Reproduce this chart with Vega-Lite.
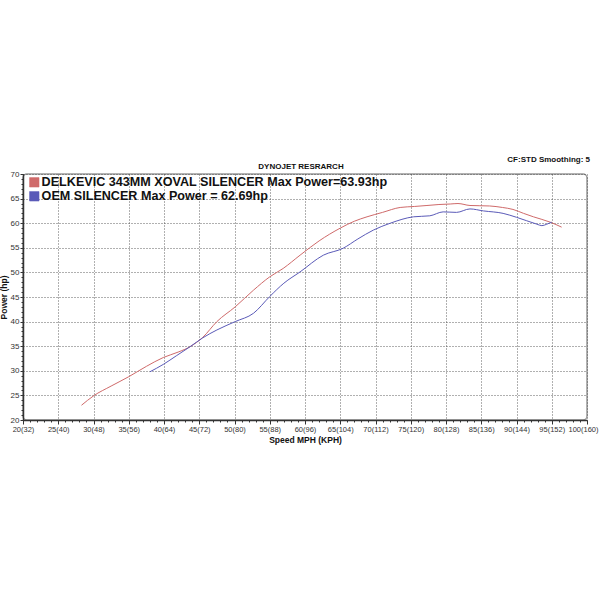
{
  "$schema": "https://vega.github.io/schema/vega-lite/v6.json",
  "autosize": "none",
  "width": 564,
  "height": 246,
  "padding": {"left": 23, "top": 174, "right": 13, "bottom": 180},
  "background": "white",
  "config": {
    "font": "Liberation Sans",
    "view": {"stroke": "#999", "strokeWidth": 1.5, "cornerRadius": 4}
  },
  "title": {"text": "DYNOJET RESRARCH", "fontSize": 8, "fontWeight": "bold", "color": "#111", "offset": -15, "anchor": "middle", "dx": -4},
  "datasets": {
    "runs": [
      {"series": "DELKEVIC 343MM XOVAL SILENCER Max Power=63.93hp", "mph": 28.3, "hp": 23.0},
      {"series": "DELKEVIC 343MM XOVAL SILENCER Max Power=63.93hp", "mph": 30.0, "hp": 24.9},
      {"series": "DELKEVIC 343MM XOVAL SILENCER Max Power=63.93hp", "mph": 32.5, "hp": 26.9},
      {"series": "DELKEVIC 343MM XOVAL SILENCER Max Power=63.93hp", "mph": 35.0, "hp": 28.8},
      {"series": "DELKEVIC 343MM XOVAL SILENCER Max Power=63.93hp", "mph": 37.5, "hp": 30.9},
      {"series": "DELKEVIC 343MM XOVAL SILENCER Max Power=63.93hp", "mph": 39.9, "hp": 32.7},
      {"series": "DELKEVIC 343MM XOVAL SILENCER Max Power=63.93hp", "mph": 42.0, "hp": 33.8},
      {"series": "DELKEVIC 343MM XOVAL SILENCER Max Power=63.93hp", "mph": 43.7, "hp": 34.9},
      {"series": "DELKEVIC 343MM XOVAL SILENCER Max Power=63.93hp", "mph": 45.5, "hp": 36.8},
      {"series": "DELKEVIC 343MM XOVAL SILENCER Max Power=63.93hp", "mph": 47.5, "hp": 40.0},
      {"series": "DELKEVIC 343MM XOVAL SILENCER Max Power=63.93hp", "mph": 50.1, "hp": 43.0},
      {"series": "DELKEVIC 343MM XOVAL SILENCER Max Power=63.93hp", "mph": 52.7, "hp": 46.4},
      {"series": "DELKEVIC 343MM XOVAL SILENCER Max Power=63.93hp", "mph": 55.0, "hp": 49.1},
      {"series": "DELKEVIC 343MM XOVAL SILENCER Max Power=63.93hp", "mph": 56.9, "hp": 50.8},
      {"series": "DELKEVIC 343MM XOVAL SILENCER Max Power=63.93hp", "mph": 59.3, "hp": 53.5},
      {"series": "DELKEVIC 343MM XOVAL SILENCER Max Power=63.93hp", "mph": 62.0, "hp": 56.4},
      {"series": "DELKEVIC 343MM XOVAL SILENCER Max Power=63.93hp", "mph": 65.0, "hp": 59.0},
      {"series": "DELKEVIC 343MM XOVAL SILENCER Max Power=63.93hp", "mph": 67.0, "hp": 60.4},
      {"series": "DELKEVIC 343MM XOVAL SILENCER Max Power=63.93hp", "mph": 68.8, "hp": 61.3},
      {"series": "DELKEVIC 343MM XOVAL SILENCER Max Power=63.93hp", "mph": 71.0, "hp": 62.2},
      {"series": "DELKEVIC 343MM XOVAL SILENCER Max Power=63.93hp", "mph": 73.5, "hp": 63.2},
      {"series": "DELKEVIC 343MM XOVAL SILENCER Max Power=63.93hp", "mph": 75.5, "hp": 63.4},
      {"series": "DELKEVIC 343MM XOVAL SILENCER Max Power=63.93hp", "mph": 77.3, "hp": 63.6},
      {"series": "DELKEVIC 343MM XOVAL SILENCER Max Power=63.93hp", "mph": 79.0, "hp": 63.8},
      {"series": "DELKEVIC 343MM XOVAL SILENCER Max Power=63.93hp", "mph": 80.6, "hp": 63.9},
      {"series": "DELKEVIC 343MM XOVAL SILENCER Max Power=63.93hp", "mph": 81.7, "hp": 64.0},
      {"series": "DELKEVIC 343MM XOVAL SILENCER Max Power=63.93hp", "mph": 83.4, "hp": 63.6},
      {"series": "DELKEVIC 343MM XOVAL SILENCER Max Power=63.93hp", "mph": 86.2, "hp": 63.5},
      {"series": "DELKEVIC 343MM XOVAL SILENCER Max Power=63.93hp", "mph": 88.0, "hp": 63.2},
      {"series": "DELKEVIC 343MM XOVAL SILENCER Max Power=63.93hp", "mph": 89.5, "hp": 62.8},
      {"series": "DELKEVIC 343MM XOVAL SILENCER Max Power=63.93hp", "mph": 91.0, "hp": 62.0},
      {"series": "DELKEVIC 343MM XOVAL SILENCER Max Power=63.93hp", "mph": 92.4, "hp": 61.3},
      {"series": "DELKEVIC 343MM XOVAL SILENCER Max Power=63.93hp", "mph": 94.8, "hp": 60.2},
      {"series": "DELKEVIC 343MM XOVAL SILENCER Max Power=63.93hp", "mph": 96.4, "hp": 59.2},
      {"series": "OEM SILENCER Max Power = 62.69hp", "mph": 38.0, "hp": 29.8},
      {"series": "OEM SILENCER Max Power = 62.69hp", "mph": 39.9, "hp": 31.3},
      {"series": "OEM SILENCER Max Power = 62.69hp", "mph": 41.8, "hp": 33.1},
      {"series": "OEM SILENCER Max Power = 62.69hp", "mph": 43.7, "hp": 34.9},
      {"series": "OEM SILENCER Max Power = 62.69hp", "mph": 45.5, "hp": 36.7},
      {"series": "OEM SILENCER Max Power = 62.69hp", "mph": 47.5, "hp": 38.3},
      {"series": "OEM SILENCER Max Power = 62.69hp", "mph": 50.1, "hp": 40.0},
      {"series": "OEM SILENCER Max Power = 62.69hp", "mph": 52.7, "hp": 41.7},
      {"series": "OEM SILENCER Max Power = 62.69hp", "mph": 55.0, "hp": 45.1},
      {"series": "OEM SILENCER Max Power = 62.69hp", "mph": 57.0, "hp": 47.8},
      {"series": "OEM SILENCER Max Power = 62.69hp", "mph": 59.3, "hp": 50.1},
      {"series": "OEM SILENCER Max Power = 62.69hp", "mph": 62.6, "hp": 53.5},
      {"series": "OEM SILENCER Max Power = 62.69hp", "mph": 65.4, "hp": 54.9},
      {"series": "OEM SILENCER Max Power = 62.69hp", "mph": 67.5, "hp": 56.8},
      {"series": "OEM SILENCER Max Power = 62.69hp", "mph": 69.7, "hp": 58.6},
      {"series": "OEM SILENCER Max Power = 62.69hp", "mph": 72.1, "hp": 60.0},
      {"series": "OEM SILENCER Max Power = 62.69hp", "mph": 75.4, "hp": 61.3},
      {"series": "OEM SILENCER Max Power = 62.69hp", "mph": 77.7, "hp": 61.5},
      {"series": "OEM SILENCER Max Power = 62.69hp", "mph": 79.6, "hp": 62.3},
      {"series": "OEM SILENCER Max Power = 62.69hp", "mph": 81.5, "hp": 62.2},
      {"series": "OEM SILENCER Max Power = 62.69hp", "mph": 83.4, "hp": 62.9},
      {"series": "OEM SILENCER Max Power = 62.69hp", "mph": 85.3, "hp": 62.5},
      {"series": "OEM SILENCER Max Power = 62.69hp", "mph": 88.1, "hp": 62.0},
      {"series": "OEM SILENCER Max Power = 62.69hp", "mph": 90.0, "hp": 61.2},
      {"series": "OEM SILENCER Max Power = 62.69hp", "mph": 92.9, "hp": 59.8},
      {"series": "OEM SILENCER Max Power = 62.69hp", "mph": 93.6, "hp": 59.5},
      {"series": "OEM SILENCER Max Power = 62.69hp", "mph": 94.3, "hp": 59.8},
      {"series": "OEM SILENCER Max Power = 62.69hp", "mph": 95.0, "hp": 60.2}
    ],
    "note": [{"label": "CF:STD Smoothing: 5"}]
  },
  "resolve": {"axis": {"x": "independent", "y": "independent"}},
  "layer": [
    {
      "data": {"name": "runs"},
      "mark": {"type": "line", "strokeWidth": 1, "interpolate": "monotone"},
      "encoding": {
        "x": {
          "field": "mph", "type": "quantitative",
          "scale": {"domain": [20, 100], "nice": false, "zero": false},
          "axis": {
            "orient": "bottom",
            "values": [20, 25, 30, 35, 40, 45, 50, 55, 60, 65, 70, 75, 80, 85, 90, 95, 100],
            "labelExpr": "datum.value + '(' + round(datum.value * 1.6) + ')'",
            "labelFontSize": 7.5, "labelColor": "#333", "labelPadding": 1,
            "labelOffset": {"condition": {"test": "datum.value == 100", "value": -4}, "value": 0},
            "tickSize": 4, "tickColor": "#333", "domainColor": "#333", "domainWidth": 1.5,
            "grid": true, "gridColor": "#444", "gridDash": [1, 2], "gridWidth": 1, "gridOpacity": 0.85,
            "labelOverlap": false, "labelFlush": false,
            "title": "Speed MPH (KPH)", "titleFontSize": 8.5, "titleFontWeight": "bold", "titleColor": "#111", "titlePadding": 3
          }
        },
        "y": {
          "field": "hp", "type": "quantitative",
          "scale": {"domain": [20, 70], "nice": false, "zero": false},
          "axis": {
            "orient": "left",
            "values": [20, 25, 30, 35, 40, 45, 50, 55, 60, 65, 70],
            "labelFontSize": 8, "labelColor": "#333", "labelPadding": 1,
            "tickSize": 3, "tickColor": "#333", "domainColor": "#333", "domainWidth": 1.5,
            "grid": true, "gridColor": "#444", "gridDash": [1, 2], "gridWidth": 1, "gridOpacity": 0.85,
            "labelOverlap": false, "labelFlush": false,
            "title": "Power (hp)", "titleFontSize": 8.5, "titleFontWeight": "bold", "titleColor": "#111", "titlePadding": 2
          }
        },
        "color": {
          "field": "series", "type": "nominal",
          "scale": {
            "domain": ["DELKEVIC 343MM XOVAL SILENCER Max Power=63.93hp", "OEM SILENCER Max Power = 62.69hp"],
            "range": ["#cf6a6a", "#5a5ab8"]
          },
          "legend": {
            "orient": "none", "legendX": 5, "legendY": 2,
            "title": null, "symbolType": "square", "symbolSize": 90,
            "labelFontSize": 12.6, "labelFontWeight": "bold", "labelColor": "#111", "labelLimit": 600,
            "labelOffset": 1, "rowPadding": 1,
            "encode": {
              "symbols": {"update": {
                "fill": {"field": "value", "scale": "color"},
                "stroke": {"value": "#222"}, "strokeWidth": {"value": 0.5}, "opacity": {"value": 1}
              }}
            }
          }
        }
      }
    },
    {
      "data": {"name": "runs"},
      "mark": {"type": "point", "opacity": 0},
      "encoding": {
        "x": {
          "field": "mph", "type": "quantitative",
          "axis": {
            "orient": "bottom",
            "values": [20,21,22,23,24,25,26,27,28,29,30,31,32,33,34,35,36,37,38,39,40,41,42,43,44,45,46,47,48,49,50,51,52,53,54,55,56,57,58,59,60,61,62,63,64,65,66,67,68,69,70,71,72,73,74,75,76,77,78,79,80,81,82,83,84,85,86,87,88,89,90,91,92,93,94,95,96,97,98,99,100],
            "labels": false, "domain": false, "grid": false, "title": null,
            "tickSize": 2, "tickColor": "#333"
          }
        },
        "y": {
          "field": "hp", "type": "quantitative",
          "axis": {
            "orient": "left",
            "values": [20,21,22,23,24,25,26,27,28,29,30,31,32,33,34,35,36,37,38,39,40,41,42,43,44,45,46,47,48,49,50,51,52,53,54,55,56,57,58,59,60,61,62,63,64,65,66,67,68,69,70],
            "labels": false, "domain": false, "grid": false, "title": null,
            "tickSize": 2, "tickColor": "#333"
          }
        }
      }
    },
    {
      "data": {"name": "note"},
      "mark": {"type": "text", "align": "right", "baseline": "middle", "fontSize": 8, "fontWeight": "bold", "color": "#111", "dx": 3},
      "encoding": {
        "x": {"datum": 100, "type": "quantitative", "axis": null},
        "y": {"datum": 72.8, "type": "quantitative", "axis": null},
        "text": {"field": "label"}
      }
    }
  ]
}
